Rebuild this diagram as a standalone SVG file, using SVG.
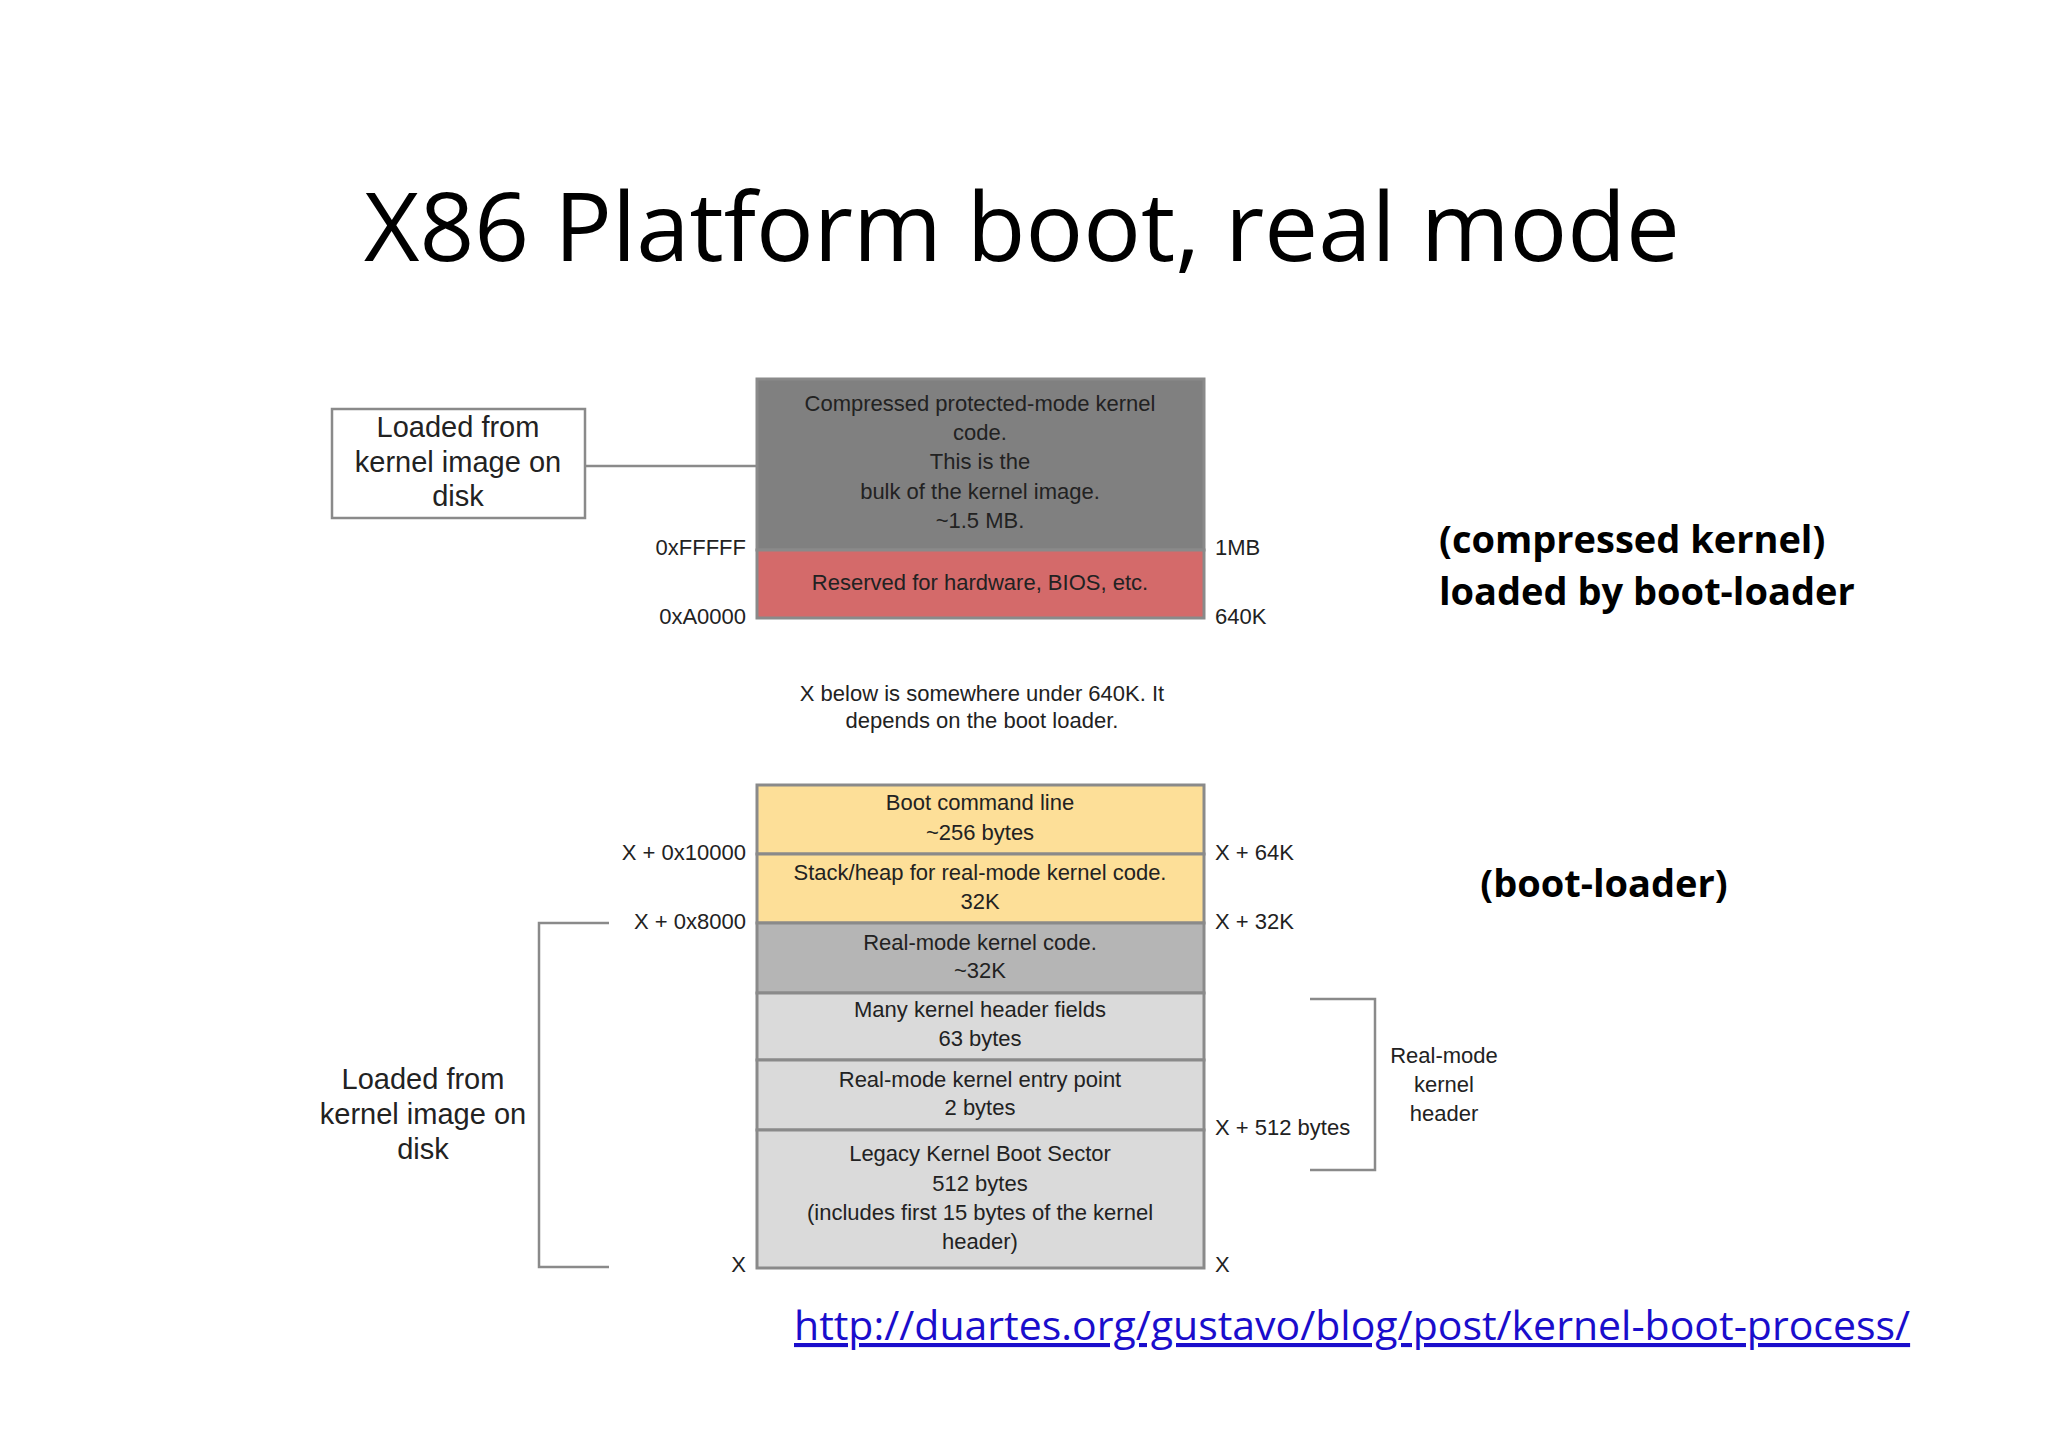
<svg xmlns="http://www.w3.org/2000/svg" width="2048" height="1448" viewBox="0 0 2048 1448">
<style>
.t{font-family:"Liberation Sans",Arial,sans-serif;font-size:22px;fill:#222;text-anchor:middle;dominant-baseline:central}
.l{font-family:"Liberation Sans",Arial,sans-serif;font-size:22px;fill:#222;dominant-baseline:central}
.r{text-anchor:end}
.big{font-size:29px}
.b{font-family:"Open Sans",sans-serif;font-weight:bold;font-size:38px;fill:#000}
.cell{stroke:#8a8a8a;stroke-width:3}
.ln{stroke:#8a8a8a;stroke-width:2.5;fill:none}
</style>
<rect width="2048" height="1448" fill="#fff"/>
<text x="1022" y="261" font-family="Open Sans, sans-serif" font-size="96" text-anchor="middle" fill="#000">X86 Platform boot, real mode</text>
<g id="top-stack">
<rect class="cell" x="757" y="379" width="447" height="171" fill="#808080"/>
<text class="t" x="980" y="403">Compressed protected-mode kernel</text>
<text class="t" x="980" y="432">code.</text>
<text class="t" x="980" y="461">This is the</text>
<text class="t" x="980" y="491">bulk of the kernel image.</text>
<text class="t" x="980" y="520">~1.5 MB.</text>
<rect class="cell" x="757" y="550" width="447" height="68" fill="#d46a6a"/>
<text class="t" x="980" y="582">Reserved for hardware, BIOS, etc.</text>
</g>
<g id="left-box-top">
<rect x="332" y="409" width="253" height="109" fill="#fff" stroke="#8a8a8a" stroke-width="2.5"/>
<text class="t big" x="458" y="427">Loaded from</text>
<text class="t big" x="458" y="462">kernel image on</text>
<text class="t big" x="458" y="496">disk</text>
</g>
<g id="addr-labels">
<text class="l r" x="746" y="547">0xFFFFF</text>
<text class="l r" x="746" y="616">0xA0000</text>
<text class="l" x="1215" y="547">1MB</text>
<text class="l" x="1215" y="616">640K</text>
<text class="t" x="982" y="693">X below is somewhere under 640K. It</text>
<text class="t" x="982" y="720">depends on the boot loader.</text>
<text class="l r" x="746" y="852">X + 0x10000</text>
<text class="l r" x="746" y="921">X + 0x8000</text>
<text class="l r" x="746" y="1264">X</text>
<text class="l" x="1215" y="852">X + 64K</text>
<text class="l" x="1215" y="921">X + 32K</text>
<text class="l" x="1215" y="1127">X + 512 bytes</text>
<text class="l" x="1215" y="1264">X</text>
</g>
<g id="bottom-stack">
<rect class="cell" x="757" y="785" width="447" height="69" fill="#fddf98"/>
<text class="t" x="980" y="802">Boot command line</text>
<text class="t" x="980" y="832">~256 bytes</text>
<rect class="cell" x="757" y="854" width="447" height="69" fill="#fddf98"/>
<text class="t" x="980" y="872">Stack/heap for real-mode kernel code.</text>
<text class="t" x="980" y="901">32K</text>
<rect class="cell" x="757" y="923" width="447" height="70" fill="#b5b5b5"/>
<text class="t" x="980" y="942">Real-mode kernel code.</text>
<text class="t" x="980" y="970">~32K</text>
<rect class="cell" x="757" y="993" width="447" height="67" fill="#dadada"/>
<text class="t" x="980" y="1009">Many kernel header fields</text>
<text class="t" x="980" y="1038">63 bytes</text>
<rect class="cell" x="757" y="1060" width="447" height="70" fill="#dadada"/>
<text class="t" x="980" y="1079">Real-mode kernel entry point</text>
<text class="t" x="980" y="1107">2 bytes</text>
<rect class="cell" x="757" y="1130" width="447" height="138" fill="#dadada"/>
<text class="t" x="980" y="1153">Legacy Kernel Boot Sector</text>
<text class="t" x="980" y="1183">512 bytes</text>
<text class="t" x="980" y="1212">(includes first 15 bytes of the kernel</text>
<text class="t" x="980" y="1241">header)</text>
</g>
<g id="left-bracket-label">
<text class="t big" x="423" y="1079">Loaded from</text>
<text class="t big" x="423" y="1114">kernel image on</text>
<text class="t big" x="423" y="1149">disk</text>
</g>
<g id="right-bracket-label">
<text class="t" x="1444" y="1055">Real-mode</text>
<text class="t" x="1444" y="1084">kernel</text>
<text class="t" x="1444" y="1113">header</text>
</g>
<g id="connectors">
<line class="ln" x1="585" y1="466" x2="757" y2="466"/>
<polyline class="ln" points="609,923 539,923 539,1267 609,1267"/>
<polyline class="ln" points="1310,999 1375,999 1375,1170 1310,1170"/>
</g>
<g id="notes">
<text class="b" x="1439" y="553">(compressed kernel)</text>
<text class="b" x="1439" y="605">loaded by boot-loader</text>
<text class="b" x="1604" y="897" text-anchor="middle">(boot-loader)</text>
<text x="794" y="1340" font-family="Open Sans, sans-serif" font-size="41" fill="#1a0dcc" text-decoration="underline">http://duartes.org/gustavo/blog/post/kernel-boot-process/</text>
</g>
</svg>
